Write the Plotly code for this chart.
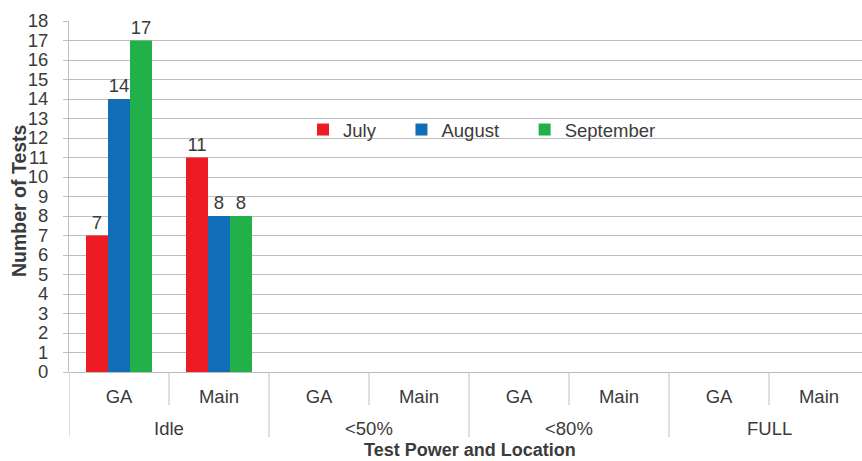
import plotly.graph_objects as go

groups = ["Idle", "<50%", "<80%", "FULL"]
locations = ["GA", "Main"]
months = ["July", "August", "September"]
july = [7, 11, None, None, None, None, None, None]
august = [14, 8, None, None, None, None, None, None]
september = [17, 8, None, None, None, None, None, None]
y_ticks = list(range(0, 19))

colors = ["#ED1C24", "#126DB7", "#22B04B"]
cats = [f"{g}|{l}" for g in groups for l in locations]
ticktext = [l for g in groups for l in locations]

font_fam = "Liberation Sans, Arial, sans-serif"
txtcol = "#3B3B3B"
gridcol = "#BEBEBE"
FS = 18.5

W, H = 862, 461
left = 69
top, bottom = 21, 372
ph = bottom - top
pw = W - left
def py(p):
    return (bottom - p) / ph
def px(p):
    return (p - left) / pw

fig = go.Figure()
for name, vals, c in zip(months, [july, august, september], colors):
    fig.add_trace(go.Bar(
        x=cats, y=vals, name=name + "\u00a0" * 4, marker=dict(color=c, line=dict(width=0)),
        text=[("" if v is None else str(v)) for v in vals],
        textposition="outside", cliponaxis=False,
        textfont=dict(size=FS, color=txtcol, family=font_fam),
    ))

shapes = []
for i in range(0, 9):
    xpos = i - 0.5
    ylow = py(437) if i % 2 == 0 else py(405)
    shapes.append(dict(type="line", xref="x", yref="paper", x0=xpos, x1=xpos,
                       y0=0, y1=ylow, line=dict(color=gridcol, width=1)))

annotations = []
for gi, g in enumerate(groups):
    annotations.append(dict(x=gi * 2 + 0.5, xref="x", y=py(428), yref="paper",
                            text=g, showarrow=False, yanchor="middle",
                            font=dict(size=FS, color=txtcol, family=font_fam)))
annotations.append(dict(x=px(470), xref="paper", y=py(449.5), yref="paper",
                        text="<b>Test Power and Location</b>", showarrow=False,
                        yanchor="middle", xanchor="center", borderpad=0,
                        font=dict(size=18, color=txtcol, family=font_fam)))
annotations.append(dict(x=px(19), xref="paper", y=py(201), yref="paper", textangle=-90,
                        text="<b>Number of Tests</b>", showarrow=False,
                        xanchor="center", yanchor="middle",
                        font=dict(size=19.5, color=txtcol, family=font_fam)))

fig.update_layout(
    width=W, height=H,
    margin=dict(l=left, r=0, t=top, b=H - bottom, autoexpand=False),
    paper_bgcolor="white", plot_bgcolor="white",
    barmode="group", bargap=0.34, bargroupgap=0,
    font=dict(family=font_fam, size=FS, color=txtcol),
    showlegend=True,
    legend=dict(orientation="h", x=px(303), y=py(130), yanchor="middle",
                xanchor="left", font=dict(size=FS, color=txtcol, family=font_fam),
                bgcolor="rgba(0,0,0,0)", itemclick=False, traceorder="normal"),
    shapes=shapes, annotations=annotations,
    xaxis=dict(type="category", categoryorder="array", categoryarray=cats,
               tickvals=cats, ticktext=ticktext, range=[-0.5, 7.43],
               showgrid=False, showline=False, zeroline=False, automargin=False,
               ticks="outside", ticklen=8, tickcolor="rgba(0,0,0,0)",
               tickfont=dict(size=FS, color=txtcol, family=font_fam)),
    yaxis=dict(range=[0, 18], tickvals=y_ticks, showgrid=True, gridcolor=gridcol,
               gridwidth=1, showline=True, linecolor=gridcol, linewidth=1,
               zeroline=True, zerolinecolor=gridcol, zerolinewidth=1, automargin=False,
               ticks="outside", ticklen=5, tickcolor=gridcol, ticklabelstandoff=11,
               tickfont=dict(size=FS, color=txtcol, family=font_fam)),
)

fig.write_html("out.html", config={"displayModeBar": False},
               post_script="document.body.style.margin='0';document.body.style.overflow='hidden';")
